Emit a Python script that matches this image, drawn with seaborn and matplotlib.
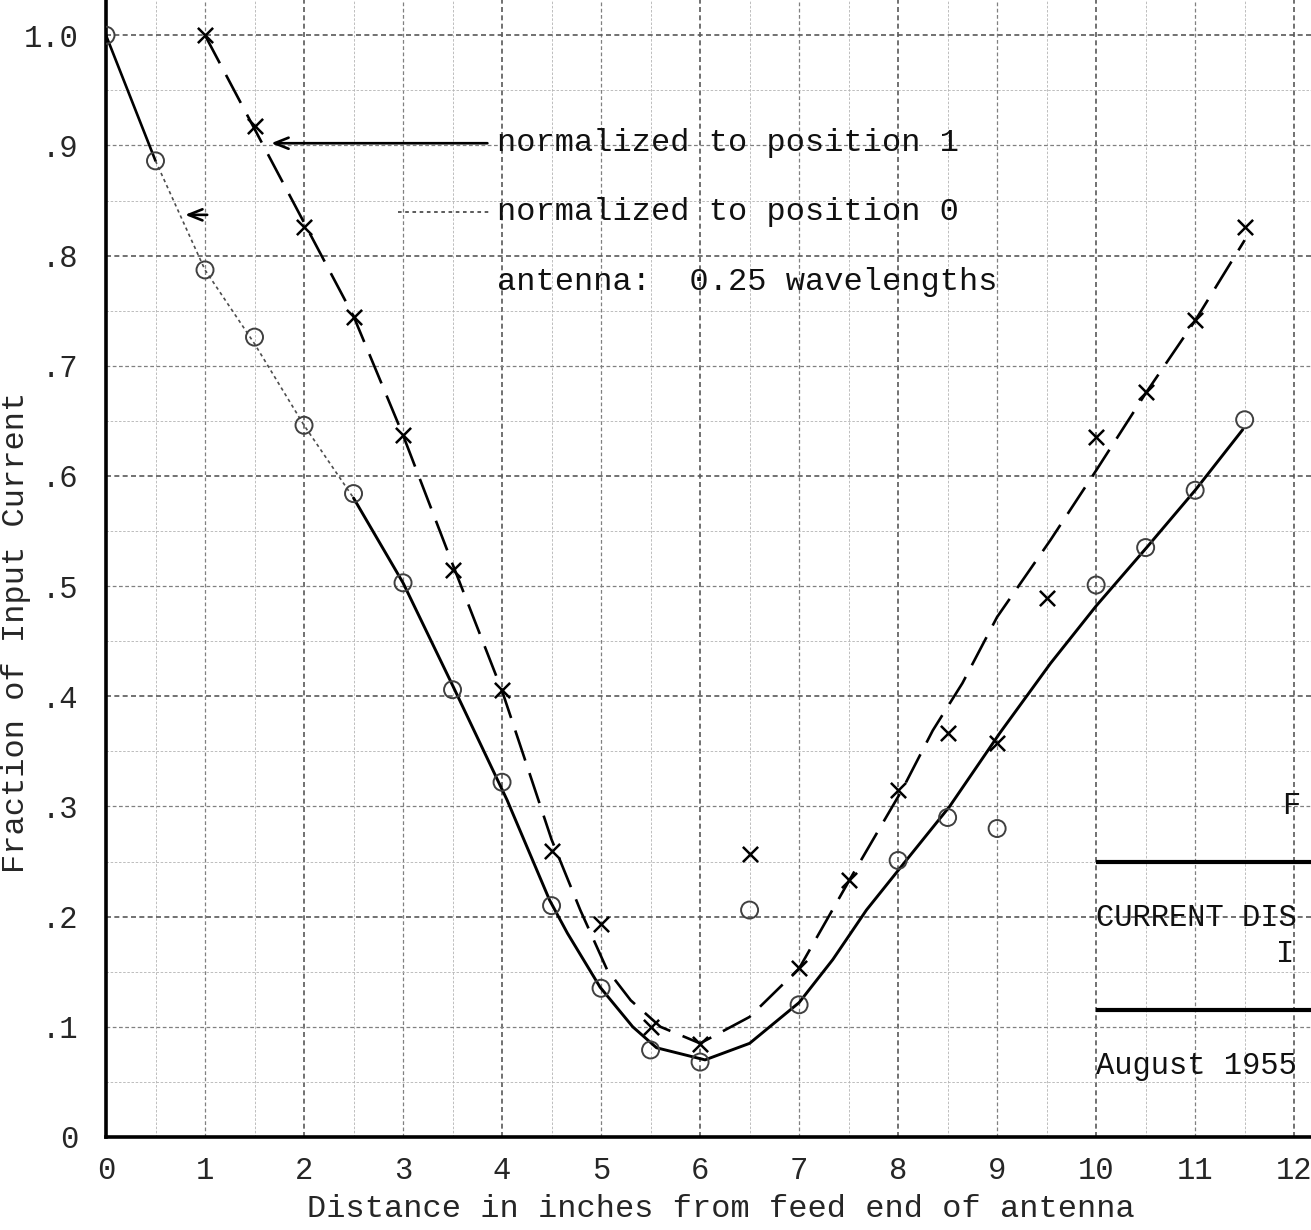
import numpy as np
import pandas as pd
import matplotlib
matplotlib.use("Agg")
import matplotlib.pyplot as plt
import seaborn as sns

# ---- data ----
# measured points, series normalized to position 1 (x markers)
pos1_x = [1.0, 1.5, 2.0, 2.5, 3.0, 3.5, 4.0, 4.5, 5.0, 5.5, 6.0, 6.5, 7.0, 7.5, 8.0, 8.5, 9.0, 9.5, 10.0, 10.5, 11.0, 11.5]
pos1_y = [1.0, 0.918, 0.826, 0.744, 0.637, 0.515, 0.406, 0.26, 0.193, 0.10, 0.084, 0.257, 0.153, 0.233, 0.315, 0.367, 0.358, 0.489, 0.635, 0.676, 0.742, 0.826]
# measured points, series normalized to position 0 (open circles)
pos0_x = [0.0, 0.5, 1.0, 1.5, 2.0, 2.5, 3.0, 3.5, 4.0, 4.5, 5.0, 5.5, 6.0, 6.5, 7.0, 8.0, 8.5, 9.0, 10.0, 10.5, 11.0, 11.5]
pos0_y = [1.0, 0.886, 0.787, 0.726, 0.646, 0.584, 0.503, 0.406, 0.322, 0.21, 0.135, 0.079, 0.068, 0.206, 0.12, 0.251, 0.29, 0.28, 0.501, 0.535, 0.587, 0.651]

# hand-drawn fitted curves
curve1_x = [1.0, 1.5, 2.0, 2.5, 3.0, 3.5, 4.0, 4.5, 4.79, 5.06, 5.3, 5.6, 6.0, 6.5, 7.0, 7.52, 8.04, 8.35, 8.65, 9.0, 9.54, 10.0, 10.5, 11.0, 11.5]
curve1_y = [1.0, 0.915, 0.83, 0.745, 0.637, 0.52, 0.405, 0.27, 0.206, 0.152, 0.124, 0.10, 0.085, 0.109, 0.153, 0.235, 0.315, 0.369, 0.412, 0.472, 0.542, 0.605, 0.675, 0.741, 0.814]
curve0a_x = [0.0, 0.5]
curve0a_y = [1.0, 0.886]
curve0b_x = [0.5, 1.0, 1.5, 2.0, 2.5]
curve0b_y = [0.886, 0.787, 0.72, 0.646, 0.58]
curve0c_x = [2.5, 3.0, 3.5, 4.05, 4.48, 4.66, 4.99, 5.32, 5.56, 6.05, 6.5, 7.0, 7.34, 7.68, 8.09, 8.52, 9.03, 9.54, 10.0, 10.51, 11.0, 11.48]
curve0c_y = [0.58, 0.503, 0.41, 0.306, 0.215, 0.185, 0.136, 0.100, 0.081, 0.070, 0.085, 0.122, 0.161, 0.206, 0.252, 0.30, 0.367, 0.43, 0.482, 0.535, 0.587, 0.642]

x_ticks = list(range(0, 13))
x_tick_labels = [str(v) for v in x_ticks]
y_ticks = [0.0, 0.1, 0.2, 0.3, 0.4, 0.5, 0.6, 0.7, 0.8, 0.9, 1.0]
y_tick_labels = ["0", ".1", ".2", ".3", ".4", ".5", ".6", ".7", ".8", ".9", "1.0"]

label1 = "normalized to position 1"
label0 = "normalized to position 0"
note = "antenna:  0.25 wavelengths"
xlabel = "Distance in inches from feed end of antenna"
ylabel = "Fraction of Input Current"

# ---- styling ----
sns.set_style("white")
plt.rcParams["font.family"] = ["Liberation Mono", "DejaVu Sans Mono"]
plt.rcParams["text.color"] = "#111111"

W, H = 1311, 1230
fig = plt.figure(figsize=(W / 100, H / 100), dpi=100)
ax = fig.add_axes([106 / W, (H - 1137) / H, 1 - 106 / W, 1137 / H])
ax.set_xlim(0, 12.17)
ax.set_ylim(0, 1.032)

# graph-paper grid
for v in np.arange(0, 12.5, 0.5):
    lw, c = (1.2, "0.35") if v % 2 == 0 else ((0.9, "0.5") if v % 1 == 0 else (0.6, "0.7"))
    ax.axvline(v, color=c, lw=lw, ls=(0, (3, 2)), zorder=0)
for v in np.arange(0, 1.05, 0.05):
    k = round(v * 20)
    lw, c = (1.2, "0.35") if k % 4 == 0 else ((0.9, "0.5") if k % 2 == 0 else (0.6, "0.7"))
    ax.axhline(v, color=c, lw=lw, ls=(0, (3, 2)), zorder=0)

# curves
sns.lineplot(x=curve1_x, y=curve1_y, ax=ax, color="black", lw=1.9,
             linestyle=(0, (12, 5)), sort=False, estimator=None)
sns.lineplot(x=curve0a_x, y=curve0a_y, ax=ax, color="black", lw=1.9, sort=False, estimator=None)
sns.lineplot(x=curve0b_x, y=curve0b_y, ax=ax, color="0.3", lw=1.2,
             linestyle=(0, (2, 2)), sort=False, estimator=None)
sns.lineplot(x=curve0c_x, y=curve0c_y, ax=ax, color="black", lw=2.1, sort=False, estimator=None)

# markers
sns.scatterplot(x=pos1_x, y=pos1_y, ax=ax, marker="x", s=120, color="black",
                linewidth=1.8, zorder=4)
sns.scatterplot(x=pos0_x, y=pos0_y, ax=ax, marker="o", s=150, facecolors="none",
                edgecolors="0.25", linewidths=1.4, zorder=4)

# legend-like annotations
ax.annotate("", xy=(1.64, 0.902), xytext=(3.88, 0.902),
            arrowprops=dict(arrowstyle="->,head_length=1.0,head_width=0.4", color="black", lw=1.9))
ax.plot([2.95, 3.88], [0.840, 0.840], color="0.3", lw=1.3, ls=(0, (2, 2)))
ax.annotate("", xy=(0.77, 0.837), xytext=(1.05, 0.837),
            arrowprops=dict(arrowstyle="->,head_length=1.0,head_width=0.4", color="black", lw=1.9))
ax.text(3.95, 0.902, label1, fontsize=23, va="center", ha="left")
ax.text(3.95, 0.840, label0, fontsize=23, va="center", ha="left")
ax.text(3.95, 0.776, note, fontsize=23, va="center", ha="left")

# title-block fragments on the right
ax.hlines([0.25, 0.115], 10.0, 12.17, color="black", lw=3)
ax.text(11.88, 0.30, "F", fontsize=22, va="center", ha="left")
ax.text(10.0, 0.199, "CURRENT DIS", fontsize=22, va="center", ha="left")
ax.text(11.82, 0.166, "I", fontsize=22, va="center", ha="left")
ax.text(10.0, 0.064, "August 1955", fontsize=22, va="center", ha="left")

# axes
ax.set_xticks(x_ticks)
ax.set_xticklabels(x_tick_labels, fontsize=22)
ax.set_yticks(y_ticks)
ax.set_yticklabels(y_tick_labels, fontsize=22)
ax.tick_params(axis="both", length=0)
ax.tick_params(axis="x", pad=14)
ax.tick_params(axis="y", pad=20)
for s in ["top", "right"]:
    ax.spines[s].set_visible(False)
for s in ["left", "bottom"]:
    ax.spines[s].set_linewidth(2.6)
    ax.spines[s].set_color("black")

ax.set_xlabel(xlabel, fontsize=23)
ax.set_ylabel(ylabel, fontsize=23)
ax.xaxis.set_label_coords(0.51, -0.050)
ax.yaxis.set_label_coords(-0.062, 0.444)

fig.savefig("out.png", dpi=100)
